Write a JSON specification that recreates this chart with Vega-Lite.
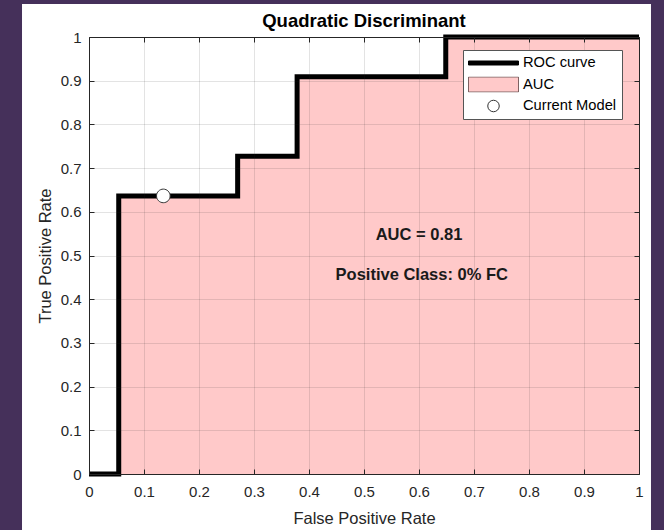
{
  "$schema": "https://vega.github.io/schema/vega-lite/v6.json",
  "width": 550,
  "height": 437,
  "autosize": {"type": "none"},
  "padding": {"left": 89, "top": 37, "right": 25, "bottom": 56},
  "background": "#45305a",
  "config": {"view": {"stroke": null}, "font": "Liberation Sans"},
  "title": {"text": "Quadratic Discriminant", "fontSize": 18.5, "fontWeight": "bold", "color": "#000000", "font": "Liberation Sans", "offset": -26, "anchor": "middle", "zindex": 1},
  "datasets": {
    "roc": [
      {"fpr": 0, "tpr": 0},
      {"fpr": 0.05405, "tpr": 0.63636},
      {"fpr": 0.27027, "tpr": 0.72727},
      {"fpr": 0.37838, "tpr": 0.90909},
      {"fpr": 0.64865, "tpr": 1},
      {"fpr": 1, "tpr": 1}
    ],
    "model": [{"fpr": 0.13514, "tpr": 0.63636}],
    "one": [{"k": 1}]
  },
  "layer": [
    {
      "data": {"name": "one"},
      "mark": {"type": "rect", "fill": "white"},
      "encoding": {
        "x": {"datum": -0.1218, "type": "quantitative", "scale": {"domain": [0, 1]},
          "axis": {"orient": "bottom", "values": [0,0.1,0.2,0.3,0.4,0.5,0.6,0.7,0.8,0.9,1], "format": "~g", "labelFlush": false, "labelFontSize": 15, "labelColor": "#262626", "labelPadding": 15, "tickSize": -5, "tickColor": "#262626", "domainColor": "#262626", "grid": true, "gridColor": "#262626", "gridOpacity": 0.13, "title": "False Positive Rate", "titleFontSize": 16.5, "titleFontWeight": "normal", "titleColor": "#262626", "titlePadding": 11, "zindex": 1}},
        "x2": {"datum": 1.0218},
        "y": {"datum": 1.0755, "type": "quantitative", "scale": {"domain": [0, 1]},
          "axis": {"orient": "left", "values": [0,0.1,0.2,0.3,0.4,0.5,0.6,0.7,0.8,0.9,1], "format": "~g", "labelFlush": false, "labelFontSize": 15, "labelColor": "#262626", "labelPadding": 13, "tickSize": -5, "tickColor": "#262626", "domainColor": "#262626", "grid": true, "gridColor": "#262626", "gridOpacity": 0.13, "title": "True Positive Rate", "titleFontSize": 16.5, "titleFontWeight": "normal", "titleColor": "#262626", "titlePadding": 7, "zindex": 1}},
        "y2": {"datum": -0.13}
      }
    },
    {
      "data": {"name": "roc"},
      "mark": {"type": "area", "interpolate": "step-after", "color": "#ffc9c9"},
      "encoding": {
        "x": {"field": "fpr", "type": "quantitative", "axis": null},
        "y": {"field": "tpr", "type": "quantitative", "axis": null}
      }
    },
    {
      "data": {"name": "roc"},
      "mark": {"type": "line", "interpolate": "step-after", "strokeWidth": 5, "strokeJoin": "miter", "color": "#000000"},
      "encoding": {
        "x": {"field": "fpr", "type": "quantitative", "axis": null},
        "y": {"field": "tpr", "type": "quantitative", "axis": null}
      }
    },
    {
      "data": {"name": "model"},
      "mark": {"type": "point", "filled": true, "size": 3500, "strokeWidth": 1, "opacity": 1},
      "encoding": {
        "x": {"field": "fpr", "type": "quantitative", "axis": null},
        "y": {"field": "tpr", "type": "quantitative", "axis": null},
        "color": {"datum": "Current Model", "type": "nominal",
          "scale": {"domain": ["ROC curve", "AUC", "Current Model"], "range": ["#000000", "#ffc9c9", "#ffffff"]},
          "legend": {
            "orient": "none", "legendX": 374, "legendY": 13, "title": null,
            "padding": 5, "fillColor": "white", "strokeColor": "#555555",
            "symbolSize": 2500, "clipHeight": 16, "rowPadding": 5.5, "labelOffset": 4, "symbolOffset": 0,
            "symbolStrokeWidth": 1, "symbolOpacity": 1,
            "labelFontSize": 14.7, "labelFont": "Liberation Sans", "labelColor": "#000000", "zindex": 1
          }},
        "shape": {"datum": "Current Model", "type": "nominal",
          "scale": {"domain": ["ROC curve", "AUC", "Current Model"], "range": ["M-1,-0.08H1V0.08H-1Z", "M-1,-0.3H1V0.3H-1Z", "M0.23,0A0.23,0.23,0,1,1,-0.23,0A0.23,0.23,0,1,1,0.23,0Z"]},
          "legend": {"title": null, "orient": "none", "legendX": 374, "legendY": 13, "symbolSize": 2500, "clipHeight": 16}},
        "stroke": {"datum": "Current Model", "type": "nominal",
          "scale": {"domain": ["ROC curve", "AUC", "Current Model"], "range": ["#000000", "#7d6262", "#333333"]},
          "legend": {"title": null, "orient": "none", "legendX": 374, "legendY": 13, "symbolSize": 2500, "clipHeight": 16}}
      }
    },
    {
      "data": {"name": "one"},
      "mark": {"type": "text", "text": "AUC = 0.81", "fontSize": 16.5, "fontWeight": "bold", "color": "#1a1a1a", "align": "center", "baseline": "middle"},
      "encoding": {
        "x": {"datum": 0.6, "type": "quantitative",
          "axis": {"orient": "top", "values": [0,0.1,0.2,0.3,0.4,0.5,0.6,0.7,0.8,0.9,1], "labels": false, "title": null, "grid": false, "tickSize": -5, "tickColor": "#262626", "domainColor": "#262626", "zindex": 1}},
        "y": {"datum": 0.547, "type": "quantitative",
          "axis": {"orient": "right", "values": [0,0.1,0.2,0.3,0.4,0.5,0.6,0.7,0.8,0.9,1], "labels": false, "title": null, "grid": false, "tickSize": -5, "tickColor": "#262626", "domainColor": "#262626", "zindex": 1}}
      }
    },
    {
      "data": {"name": "one"},
      "mark": {"type": "text", "text": "Positive Class: 0% FC", "fontSize": 16.5, "fontWeight": "bold", "color": "#1a1a1a", "align": "center", "baseline": "middle"},
      "encoding": {
        "x": {"datum": 0.605, "type": "quantitative", "axis": null},
        "y": {"datum": 0.455, "type": "quantitative", "axis": null}
      }
    }
  ]
}
